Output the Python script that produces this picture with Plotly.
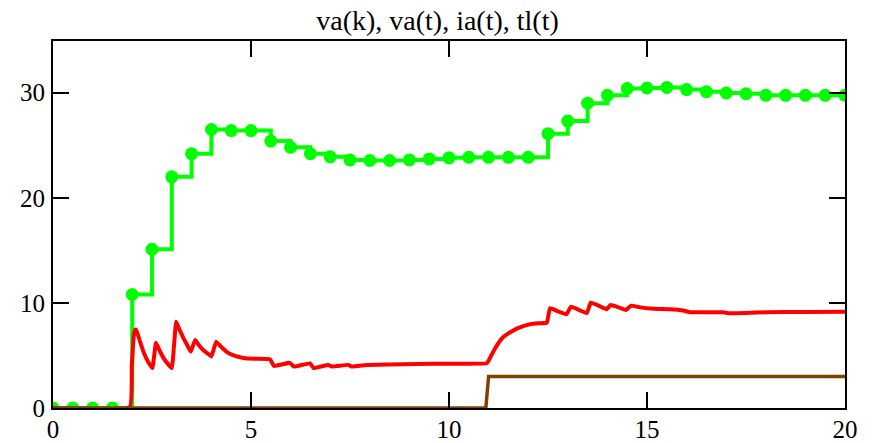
import plotly.graph_objects as go

# va(k): sampled values at k = 0, 0.5, ..., 20
k_vals = [0, 0.5, 1, 1.5, 2, 2.5, 3, 3.5, 4, 4.5, 5, 5.5, 6, 6.5, 7, 7.5, 8, 8.5, 9, 9.5,
          10, 10.5, 11, 11.5, 12, 12.5, 13, 13.5, 14, 14.5, 15, 15.5, 16, 16.5, 17, 17.5,
          18, 18.5, 19, 19.5, 20]
va_k = [0, 0, 0, 0, 10.8, 15.1, 22.0, 24.2, 26.5, 26.4, 26.4, 25.4, 24.8, 24.2, 23.9, 23.6,
        23.55, 23.55, 23.6, 23.7, 23.8, 23.85, 23.85, 23.85, 23.85, 26.1, 27.3, 29.0, 29.75,
        30.4, 30.45, 30.5, 30.3, 30.1, 29.97, 29.9, 29.75, 29.75, 29.75, 29.75, 29.75]

# ia(t): armature current
ia_t = [0, 1.94, 1.99, 2.04, 2.07, 2.10, 2.2, 2.3, 2.4, 2.51, 2.60, 2.7, 2.8, 2.9, 3.0,
        3.11, 3.2, 3.3, 3.4, 3.48, 3.59, 3.7, 3.8, 3.9, 4.0, 4.12, 4.25, 4.4, 4.6, 4.85,
        5.1, 5.48, 5.58, 5.98, 6.08, 6.49, 6.58, 6.95, 7.04, 7.46, 7.54, 7.92, 8.5, 9.18,
        10.0, 10.95, 11.0, 11.08, 11.17, 11.27, 11.37, 11.5, 11.71, 11.9, 12.05, 12.25,
        12.47, 12.55, 12.75, 12.97, 13.08, 13.3, 13.48, 13.58, 13.8, 13.98, 14.08, 14.3,
        14.47, 14.6, 14.8, 14.99, 15.3, 15.58, 15.92, 16.09, 16.5, 16.93, 17.05, 17.5,
        18.02, 19.0, 20]
ia_v = [0, 0.1, 4.0, 6.9, 7.4, 7.45, 6.3, 5.2, 4.4, 3.8, 6.2, 5.4, 4.7, 4.2, 3.8,
        8.2, 7.4, 6.6, 5.9, 5.37, 6.48, 5.9, 5.5, 5.2, 4.9, 6.3, 5.8, 5.3, 4.95, 4.73,
        4.68, 4.63, 4.0, 4.3, 3.94, 4.25, 3.8, 4.1, 3.94, 4.1, 3.94, 4.1, 4.15, 4.19,
        4.22, 4.25, 4.5, 5.1, 5.7, 6.3, 6.75, 7.1, 7.55, 7.82, 7.97, 8.06,
        8.12, 9.49, 9.2, 8.92, 9.65, 9.3, 9.02, 10.03, 9.7, 9.4, 9.8, 9.55,
        9.33, 9.74, 9.6, 9.49, 9.43, 9.4, 9.27, 9.11, 9.11, 9.11, 9.02, 9.05,
        9.11, 9.14, 9.17]

# tl(t): load torque
tl_t = [0, 10.93, 11.0, 20]
tl_v = [0, 0, 3, 3]

title_text = "va(k), va(t), ia(t), tl(t)"
x_ticks = [0, 5, 10, 15, 20]
y_ticks = [0, 10, 20, 30]

FONT = "Liberation Serif, Times New Roman, serif"

fig = go.Figure()
fig.add_trace(go.Scatter(x=k_vals, y=va_k, mode="markers",
                         marker=dict(color="#00FF00", size=13), name="va(k)"))
fig.add_trace(go.Scatter(x=k_vals, y=va_k, mode="lines", line_shape="hv",
                         line=dict(color="#00FF00", width=4), name="va(t)"))
fig.add_trace(go.Scatter(x=ia_t, y=ia_v, mode="lines", line_shape="spline",
                         line=dict(color="#FF0000", width=4, smoothing=0.3), name="ia(t)"))
fig.add_trace(go.Scatter(x=tl_t, y=tl_v, mode="lines",
                         line=dict(color="#804000", width=3.5), name="tl(t)"))

axis_common = dict(showline=True, linecolor="black", linewidth=2, mirror="ticks",
                   ticks="inside", ticklen=16, tickwidth=2, tickcolor="black",
                   showgrid=False, zeroline=False, automargin=False,
                   tickfont=dict(family=FONT, size=25, color="black"))

fig.update_layout(
    width=875, height=443,
    margin=dict(l=53, r=30, t=41, b=35),
    paper_bgcolor="white", plot_bgcolor="white",
    showlegend=False,
    title=dict(text=title_text, x=0.5, xanchor="center", y=0.955, yanchor="middle",
               font=dict(family=FONT, size=28, color="black")),
    xaxis=dict(range=[0, 20], tickvals=x_ticks, ticklabelstandoff=-2, **axis_common),
    yaxis=dict(range=[0, 34.92], tickvals=y_ticks, ticklabelstandoff=1, **axis_common),
)

fig.write_html("out.html")
